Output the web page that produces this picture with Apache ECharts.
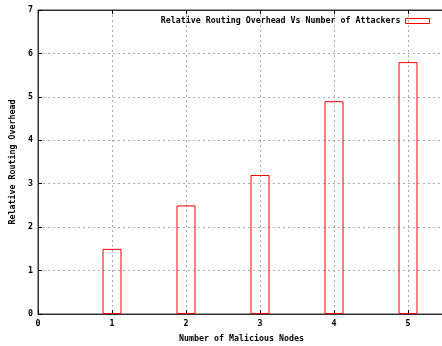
<!DOCTYPE html>
<html><head><meta charset="utf-8">
<script src="https://cdn.jsdelivr.net/npm/echarts@6/dist/echarts.min.js"></script>
<style>html,body{margin:0;padding:0;background:#fff}#c{width:442px;height:346px}</style>
</head><body><div id="c"></div>
<script>
var seriesName = 'Relative Routing Overhead Vs Number of Attackers';
var nodes = [1, 2, 3, 4, 5];
var overhead = [1.5, 2.5, 3.2, 4.9, 5.8];
var xTitle = 'Number of Malicious Nodes';
var yTitle = 'Relative Routing Overhead';

var font = 'DejaVu Sans Mono';
var chart = echarts.init(document.getElementById('c'));
var data = nodes.map(function (n, i) { return [n, overhead[i]]; });
var lbl = {fontFamily: font, fontWeight: 'bold', fontSize: 8.3, color: '#000'};
chart.setOption({
  animation: false,
  grid: {left: 38, top: 10, right: -3, bottom: 32, outerBoundsMode: 'none', containLabel: false,
         show: true, borderColor: '#333', borderWidth: 1},
  legend: {
    right: 7, top: 12, align: 'right', itemWidth: 24, itemHeight: 5, itemGap: 10,
    icon: 'rect',
    textStyle: lbl,
    itemStyle: {color: 'rgba(0,0,0,0)', borderColor: '#ff0000', borderWidth: 1},
    data: [seriesName]
  },
  xAxis: [{
    type: 'value', min: 0, max: 5.5, interval: 1,
    name: xTitle, nameLocation: 'middle', nameGap: 21, nameTextStyle: lbl,
    axisLine: {show: true, lineStyle: {color: '#333'}},
    axisTick: {show: true, inside: true, length: 4, lineStyle: {color: '#000'}},
    axisLabel: Object.assign({margin: 6, formatter: function (v) { return Number.isInteger(v) ? String(v) : ''; }}, lbl),
    splitLine: {show: true, lineStyle: {color: '#aaa', type: [2, 3], width: 1}}
  }, {
    type: 'value', min: 0, max: 5.5, interval: 1, position: 'top',
    axisLine: {show: true, lineStyle: {color: '#333'}},
    axisTick: {show: true, inside: true, length: 4, lineStyle: {color: '#000'}},
    axisLabel: {show: false}, splitLine: {show: false}
  }],
  yAxis: {
    type: 'value', min: 0, max: 7, interval: 1,
    name: yTitle, nameLocation: 'middle', nameGap: 19, nameTextStyle: lbl,
    axisLine: {show: true, lineStyle: {color: '#333'}},
    axisTick: {show: true, inside: true, length: 4, lineStyle: {color: '#000'}},
    axisLabel: Object.assign({margin: 5}, lbl),
    splitLine: {show: true, lineStyle: {color: '#aaa', type: [2, 3], width: 1}}
  },
  series: [{
    name: seriesName, type: 'bar', barWidth: 19, data: data,
    itemStyle: {color: 'rgba(0,0,0,0)', borderColor: '#ff0000', borderWidth: 1},
    emphasis: {disabled: true}
  }]
});
</script></body></html>
